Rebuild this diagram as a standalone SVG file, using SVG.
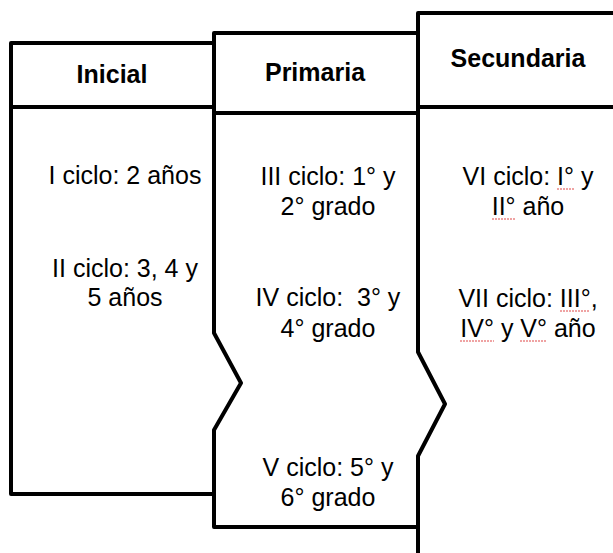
<svg xmlns="http://www.w3.org/2000/svg" width="613" height="553" viewBox="0 0 613 553">
<style>
.b{fill:none;stroke:#000;stroke-width:4;stroke-linejoin:round;stroke-linecap:round}
.h{font-family:"Liberation Sans",Arial,sans-serif;font-size:25px;font-weight:bold;fill:#000;text-anchor:middle}
.t{font-family:"Liberation Sans",Arial,sans-serif;font-size:25px;fill:#000;text-anchor:middle;white-space:pre}
.sp{stroke:#e04848;stroke-width:1.2;stroke-dasharray:2 1;fill:none}
</style>
<rect width="613" height="553" fill="#fff"/>
<g id="inicial">
<path class="b" d="M214,43 H11 V494 H214 M11,107 H214"/>
<text class="h" x="112" y="83">Inicial</text>
<text class="t" x="125" y="184">I ciclo: 2 años</text>
<text class="t" x="125" y="277">II ciclo: 3, 4 y</text>
<text class="t" x="125" y="306">5 años</text>
</g>
<g id="primaria">
<path class="b" d="M418,33 H214 V333 L241,383 L214,430 V527 H418 M214,113 H418"/>
<text class="h" x="315" y="81">Primaria</text>
<text class="t" x="328" y="185">III ciclo: 1° y</text>
<text class="t" x="328" y="215">2° grado</text>
<text class="t" x="328" y="306">IV ciclo:  3° y</text>
<text class="t" x="328" y="337">4° grado</text>
<text class="t" x="328" y="476">V ciclo: 5° y</text>
<text class="t" x="328" y="506">6° grado</text>
</g>
<g id="secundaria">
<path class="b" d="M615,13 H418 V352 L445,404 L418,456 V555 M418,107 H615"/>
<text class="h" x="518" y="67">Secundaria</text>
<text class="t" x="528" y="185">VI ciclo: I° y</text>
<text class="t" x="528" y="215">II° año</text>
<text class="t" x="528" y="307">VII ciclo: III°,</text>
<text class="t" x="528" y="337">IV° y V° año</text>
<path class="sp" d="M557,189 H574 M492,219 H515 M560,311 H590 M460,341 H494 M520,341 H547"/>
</g>
<g id="connectors"></g>
</svg>
